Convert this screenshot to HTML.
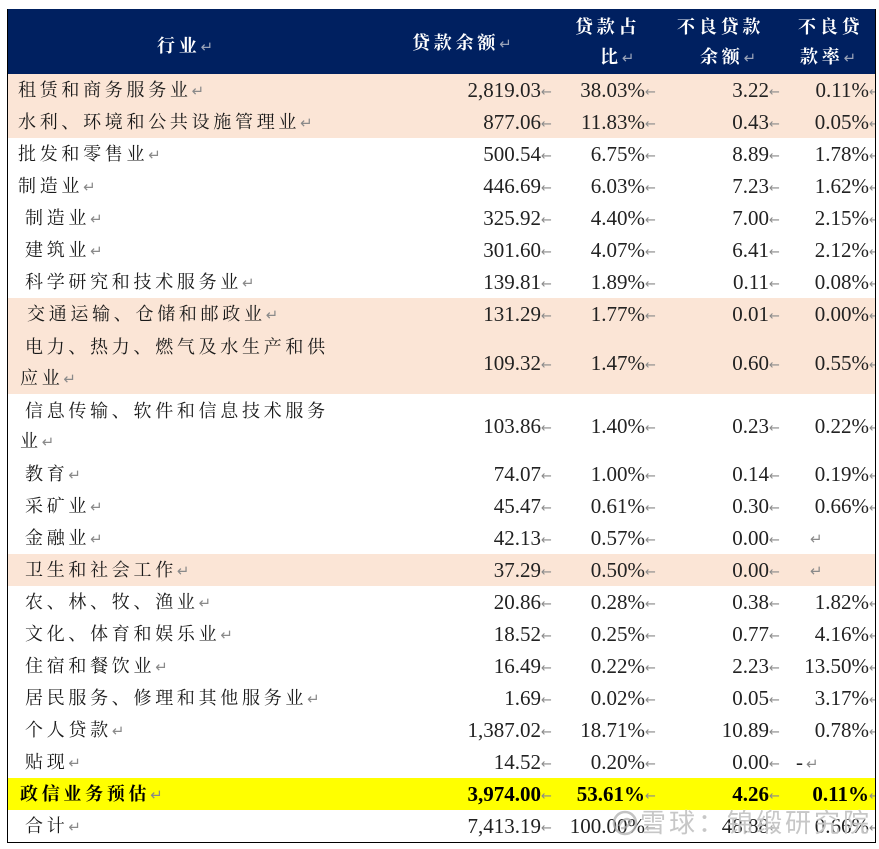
<!DOCTYPE html>
<html>
<head>
<meta charset="utf-8">
<style>
html,body{margin:0;padding:0;background:#fff;}
body{width:879px;height:849px;position:relative;overflow:hidden;}
.tbl{position:absolute;left:7px;top:9px;width:869px;height:834px;overflow:hidden;}
.hdr{position:absolute;left:0;top:0;width:869px;height:65px;background:#002060;}
.band{position:absolute;left:0;width:869px;}
.pink{background:#fbe5d6;}
.yel{background:#ffff00;}
.h{position:absolute;color:#fff;font-family:"Liberation Serif","Noto Serif CJK SC",serif;font-weight:bold;font-size:18px;letter-spacing:3.8px;line-height:22px;white-space:nowrap;}
.t{position:absolute;font-family:"Liberation Serif","Noto Serif CJK SC",serif;font-size:18px;letter-spacing:3.7px;color:#1a1a1a;white-space:nowrap;line-height:32px;}
.n{position:absolute;font-family:"Liberation Serif",serif;font-size:21px;color:#222;white-space:nowrap;line-height:32px;text-align:right;}
.b{font-weight:bold;color:#000;}
.ar{display:inline-block;width:9px;font-family:"DejaVu Sans",sans-serif;font-size:13px;color:#8a8a8a;text-align:left;letter-spacing:0;vertical-align:1px;font-weight:normal;}
.rt{font-family:"DejaVu Sans",sans-serif;font-size:15px;color:#8a8a8a;letter-spacing:0;font-weight:normal;}
.hrt{font-family:"DejaVu Sans",sans-serif;font-size:15px;color:#9aa3b8;letter-spacing:0;font-weight:normal;}
.bl{position:absolute;background:#000;}
.wm{position:absolute;left:640px;top:806px;font-family:"Liberation Sans","Noto Sans CJK SC",sans-serif;font-size:26px;letter-spacing:3px;color:rgba(175,175,175,0.7);white-space:nowrap;line-height:34px;text-shadow:0 0 1px #fff;}
</style>
</head>
<body>
<div class="tbl">
  <div class="hdr"></div>
  <div class="band pink" style="top:65px;height:64px;"></div>
  <div class="band pink" style="top:289px;height:96px;"></div>
  <div class="band pink" style="top:545px;height:32px;"></div>
  <div class="band yel" style="top:769px;height:32px;"></div>
</div>

<!-- header text -->
<div class="h" style="left:157px;top:35px;">行业<span class="hrt">↵</span></div>
<div class="h" style="left:412px;top:32px;">贷款余额<span class="hrt">↵</span></div>
<div class="h" style="left:575px;top:16px;">贷款占</div>
<div class="h" style="left:600px;top:46px;">比<span class="hrt">↵</span></div>
<div class="h" style="left:677px;top:16px;">不良贷款</div>
<div class="h" style="left:700px;top:46px;">余额<span class="hrt">↵</span></div>
<div class="h" style="left:798px;top:16px;">不良贷</div>
<div class="h" style="left:800px;top:46px;">款率<span class="hrt">↵</span></div>

<!-- rows: labels -->
<div class="t" style="left:18px;top:74px;">租赁和商务服务业<span class="rt">↵</span></div>
<div class="t" style="left:18px;top:106px;">水利、环境和公共设施管理业<span class="rt">↵</span></div>
<div class="t" style="left:18px;top:138px;">批发和零售业<span class="rt">↵</span></div>
<div class="t" style="left:18px;top:170px;">制造业<span class="rt">↵</span></div>
<div class="t" style="left:25px;top:202px;">制造业<span class="rt">↵</span></div>
<div class="t" style="left:25px;top:234px;">建筑业<span class="rt">↵</span></div>
<div class="t" style="left:25px;top:266px;">科学研究和技术服务业<span class="rt">↵</span></div>
<div class="t" style="left:27px;top:298px;">交通运输、仓储和邮政业<span class="rt">↵</span></div>
<div class="t" style="left:25px;top:331px;">电力、热力、燃气及水生产和供</div>
<div class="t" style="left:20px;top:362px;">应业<span class="rt">↵</span></div>
<div class="t" style="left:25px;top:395px;">信息传输、软件和信息技术服务</div>
<div class="t" style="left:20px;top:425px;">业<span class="rt">↵</span></div>
<div class="t" style="left:25px;top:458px;">教育<span class="rt">↵</span></div>
<div class="t" style="left:25px;top:490px;">采矿业<span class="rt">↵</span></div>
<div class="t" style="left:25px;top:522px;">金融业<span class="rt">↵</span></div>
<div class="t" style="left:25px;top:554px;">卫生和社会工作<span class="rt">↵</span></div>
<div class="t" style="left:25px;top:586px;">农、林、牧、渔业<span class="rt">↵</span></div>
<div class="t" style="left:25px;top:618px;">文化、体育和娱乐业<span class="rt">↵</span></div>
<div class="t" style="left:25px;top:650px;">住宿和餐饮业<span class="rt">↵</span></div>
<div class="t" style="left:25px;top:682px;">居民服务、修理和其他服务业<span class="rt">↵</span></div>
<div class="t" style="left:25px;top:714px;">个人贷款<span class="rt">↵</span></div>
<div class="t" style="left:25px;top:746px;">贴现<span class="rt">↵</span></div>
<div class="t b" style="left:20px;top:778px;">政信业务预估<span class="rt">↵</span></div>
<div class="t" style="left:25px;top:810px;">合计<span class="rt">↵</span></div>

<!-- numbers -->
<div class="n" style="right:329px;top:74px;">2,819.03<span class="ar">←</span></div>
<div class="n" style="right:225px;top:74px;">38.03%<span class="ar">←</span></div>
<div class="n" style="right:101px;top:74px;">3.22<span class="ar">←</span></div>
<div class="n" style="right:1px;top:74px;">0.11%<span class="ar">←</span></div>

<div class="n" style="right:329px;top:106px;">877.06<span class="ar">←</span></div>
<div class="n" style="right:225px;top:106px;">11.83%<span class="ar">←</span></div>
<div class="n" style="right:101px;top:106px;">0.43<span class="ar">←</span></div>
<div class="n" style="right:1px;top:106px;">0.05%<span class="ar">←</span></div>

<div class="n" style="right:329px;top:138px;">500.54<span class="ar">←</span></div>
<div class="n" style="right:225px;top:138px;">6.75%<span class="ar">←</span></div>
<div class="n" style="right:101px;top:138px;">8.89<span class="ar">←</span></div>
<div class="n" style="right:1px;top:138px;">1.78%<span class="ar">←</span></div>

<div class="n" style="right:329px;top:170px;">446.69<span class="ar">←</span></div>
<div class="n" style="right:225px;top:170px;">6.03%<span class="ar">←</span></div>
<div class="n" style="right:101px;top:170px;">7.23<span class="ar">←</span></div>
<div class="n" style="right:1px;top:170px;">1.62%<span class="ar">←</span></div>

<div class="n" style="right:329px;top:202px;">325.92<span class="ar">←</span></div>
<div class="n" style="right:225px;top:202px;">4.40%<span class="ar">←</span></div>
<div class="n" style="right:101px;top:202px;">7.00<span class="ar">←</span></div>
<div class="n" style="right:1px;top:202px;">2.15%<span class="ar">←</span></div>

<div class="n" style="right:329px;top:234px;">301.60<span class="ar">←</span></div>
<div class="n" style="right:225px;top:234px;">4.07%<span class="ar">←</span></div>
<div class="n" style="right:101px;top:234px;">6.41<span class="ar">←</span></div>
<div class="n" style="right:1px;top:234px;">2.12%<span class="ar">←</span></div>

<div class="n" style="right:329px;top:266px;">139.81<span class="ar">←</span></div>
<div class="n" style="right:225px;top:266px;">1.89%<span class="ar">←</span></div>
<div class="n" style="right:101px;top:266px;">0.11<span class="ar">←</span></div>
<div class="n" style="right:1px;top:266px;">0.08%<span class="ar">←</span></div>

<div class="n" style="right:329px;top:298px;">131.29<span class="ar">←</span></div>
<div class="n" style="right:225px;top:298px;">1.77%<span class="ar">←</span></div>
<div class="n" style="right:101px;top:298px;">0.01<span class="ar">←</span></div>
<div class="n" style="right:1px;top:298px;">0.00%<span class="ar">←</span></div>

<div class="n" style="right:329px;top:347px;">109.32<span class="ar">←</span></div>
<div class="n" style="right:225px;top:347px;">1.47%<span class="ar">←</span></div>
<div class="n" style="right:101px;top:347px;">0.60<span class="ar">←</span></div>
<div class="n" style="right:1px;top:347px;">0.55%<span class="ar">←</span></div>

<div class="n" style="right:329px;top:410px;">103.86<span class="ar">←</span></div>
<div class="n" style="right:225px;top:410px;">1.40%<span class="ar">←</span></div>
<div class="n" style="right:101px;top:410px;">0.23<span class="ar">←</span></div>
<div class="n" style="right:1px;top:410px;">0.22%<span class="ar">←</span></div>

<div class="n" style="right:329px;top:458px;">74.07<span class="ar">←</span></div>
<div class="n" style="right:225px;top:458px;">1.00%<span class="ar">←</span></div>
<div class="n" style="right:101px;top:458px;">0.14<span class="ar">←</span></div>
<div class="n" style="right:1px;top:458px;">0.19%<span class="ar">←</span></div>

<div class="n" style="right:329px;top:490px;">45.47<span class="ar">←</span></div>
<div class="n" style="right:225px;top:490px;">0.61%<span class="ar">←</span></div>
<div class="n" style="right:101px;top:490px;">0.30<span class="ar">←</span></div>
<div class="n" style="right:1px;top:490px;">0.66%<span class="ar">←</span></div>

<div class="n" style="right:329px;top:522px;">42.13<span class="ar">←</span></div>
<div class="n" style="right:225px;top:522px;">0.57%<span class="ar">←</span></div>
<div class="n" style="right:101px;top:522px;">0.00<span class="ar">←</span></div>
<div class="t" style="left:810px;top:522px;"><span class="rt">↵</span></div>

<div class="n" style="right:329px;top:554px;">37.29<span class="ar">←</span></div>
<div class="n" style="right:225px;top:554px;">0.50%<span class="ar">←</span></div>
<div class="n" style="right:101px;top:554px;">0.00<span class="ar">←</span></div>
<div class="t" style="left:810px;top:554px;"><span class="rt">↵</span></div>

<div class="n" style="right:329px;top:586px;">20.86<span class="ar">←</span></div>
<div class="n" style="right:225px;top:586px;">0.28%<span class="ar">←</span></div>
<div class="n" style="right:101px;top:586px;">0.38<span class="ar">←</span></div>
<div class="n" style="right:1px;top:586px;">1.82%<span class="ar">←</span></div>

<div class="n" style="right:329px;top:618px;">18.52<span class="ar">←</span></div>
<div class="n" style="right:225px;top:618px;">0.25%<span class="ar">←</span></div>
<div class="n" style="right:101px;top:618px;">0.77<span class="ar">←</span></div>
<div class="n" style="right:1px;top:618px;">4.16%<span class="ar">←</span></div>

<div class="n" style="right:329px;top:650px;">16.49<span class="ar">←</span></div>
<div class="n" style="right:225px;top:650px;">0.22%<span class="ar">←</span></div>
<div class="n" style="right:101px;top:650px;">2.23<span class="ar">←</span></div>
<div class="n" style="right:1px;top:650px;">13.50%<span class="ar">←</span></div>

<div class="n" style="right:329px;top:682px;">1.69<span class="ar">←</span></div>
<div class="n" style="right:225px;top:682px;">0.02%<span class="ar">←</span></div>
<div class="n" style="right:101px;top:682px;">0.05<span class="ar">←</span></div>
<div class="n" style="right:1px;top:682px;">3.17%<span class="ar">←</span></div>

<div class="n" style="right:329px;top:714px;">1,387.02<span class="ar">←</span></div>
<div class="n" style="right:225px;top:714px;">18.71%<span class="ar">←</span></div>
<div class="n" style="right:101px;top:714px;">10.89<span class="ar">←</span></div>
<div class="n" style="right:1px;top:714px;">0.78%<span class="ar">←</span></div>

<div class="n" style="right:329px;top:746px;">14.52<span class="ar">←</span></div>
<div class="n" style="right:225px;top:746px;">0.20%<span class="ar">←</span></div>
<div class="n" style="right:101px;top:746px;">0.00<span class="ar">←</span></div>
<div class="n" style="left:796px;top:746px;text-align:left;">-<span class="rt" style="margin-left:3px;">↵</span></div>

<div class="n b" style="right:329px;top:778px;">3,974.00<span class="ar">←</span></div>
<div class="n b" style="right:225px;top:778px;">53.61%<span class="ar">←</span></div>
<div class="n b" style="right:101px;top:778px;">4.26<span class="ar">←</span></div>
<div class="n b" style="right:1px;top:778px;">0.11%<span class="ar">←</span></div>

<div class="n" style="right:329px;top:810px;">7,413.19<span class="ar">←</span></div>
<div class="n" style="right:225px;top:810px;">100.00%<span class="ar">←</span></div>
<div class="n" style="right:101px;top:810px;">48.88<span class="ar">←</span></div>
<div class="n" style="right:1px;top:810px;">0.66%<span class="ar">←</span></div>

<!-- cover right overflow beyond border -->
<div style="position:absolute;left:876px;top:0;width:3px;height:849px;background:#fff;"></div>

<!-- borders -->
<div class="bl" style="left:7px;top:9px;width:1px;height:834px;"></div>
<div class="bl" style="left:875px;top:9px;width:1px;height:834px;"></div>
<div class="bl" style="left:7px;top:842px;width:869px;height:1px;"></div>

<!-- watermark -->
<svg style="position:absolute;left:610px;top:809px;" width="30" height="28" viewBox="0 0 30 28">
  <circle cx="15" cy="14" r="11" fill="none" stroke="rgba(175,175,175,0.75)" stroke-width="2.5"/>
  <path d="M9 17 Q15 6 21 12 Q17 20 11 19" fill="none" stroke="rgba(175,175,175,0.75)" stroke-width="2.2"/>
</svg>
<div class="wm">雪球：锦缎研究院</div>
</body>
</html>
